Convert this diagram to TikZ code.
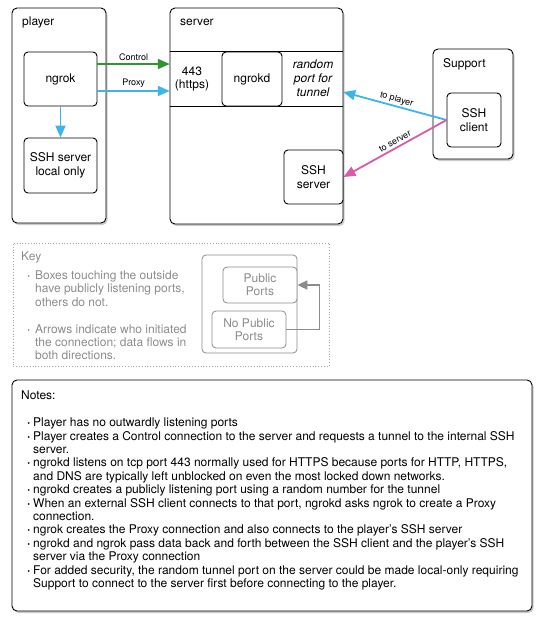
\documentclass[tikz,border=0pt]{standalone}
\usepackage{fontspec}
\setmainfont{TeX Gyre Heros}
\usetikzlibrary{arrows.meta,shadows}
\definecolor{ctlgreen}{HTML}{2E962E}
\definecolor{tunblue}{HTML}{3DB4EC}
\definecolor{sshpink}{HTML}{D95AA6}
\definecolor{keygray}{HTML}{8C8C8C}
\def\bulw{12pt}
\newcommand\bul{\makebox[\bulw][l]{\hspace{6pt}\textbf{\textperiodcentered}}}
\newcommand\hang{\hspace*{\bulw}}

\begin{document}
\begin{tikzpicture}[x=1pt, y=-1pt,
	font=\fontsize{12}{13.4}\selectfont,
	plainbox/.style={draw, line width=0.9pt, rounded corners=4pt, fill=white,
		align=center, inner sep=2pt},
	box/.style={plainbox, rounded corners=5pt,
		drop shadow={shadow xshift=1.5pt, shadow yshift=-2pt, opacity=0.4}},
	keybox/.style={plainbox, line width=0.8pt, draw=keygray, text=keygray},
	conn/.style={line width=1.8pt, -{Triangle[length=12pt, width=10pt]}},
	lbl/.style={font=\fontsize{9}{10}\selectfont, inner sep=1.5pt}]
\useasboundingbox (0,0) rectangle (544,625);

% containers
\node[box, minimum width=94, minimum height=215] (player) at (59,115.5) {};
\node[box, minimum width=173, minimum height=216] (server) at (256.5,116) {};
\node[box, minimum width=80, minimum height=110] (support) at (473,104) {};
\node[anchor=west, inner sep=0] (playerlbl) at (22,22) {player};
\node[anchor=west, inner sep=0] (serverlbl) at (180,22) {server};
\node[anchor=west, inner sep=0] (supportlbl) at (443,64) {Support};

% player side
\node[plainbox, minimum width=73, minimum height=54] (ngrok) at (60.5,79) {ngrok};
\node[plainbox, minimum width=73, minimum height=55] (local) at (60.5,165.5)
	{SSH server\\local only};

% server side
\node[minimum width=173, minimum height=54, inner sep=0] (band) at (256.5,79) {};
\draw[line width=0.9pt] (band.north west) -- (band.north east)
	(band.south west) -- (band.south east);
\node[align=center] (https) at (192,79) {443\\(https)};
\node[plainbox, minimum width=60, minimum height=54] (ngrokd) at (252,79) {ngrokd};
\node[align=center, font=\fontsize{12}{14}\selectfont\itshape] (rport) at (313,78)
	{random\\port for\\tunnel};
\node[plainbox, minimum width=59, minimum height=54] (sshsrv) at (313.5,177) {SSH\\server};

% support side
\node[plainbox, minimum width=54, minimum height=54] (client) at (474,120) {SSH\\client};

% connections
\draw[conn, ctlgreen] ([yshift=15pt]ngrok.east) -- ([yshift=15pt]ngrok.east -| band.west)
	node[lbl, midway, above=1pt, text=black] {Control};
\draw[conn, tunblue] ([yshift=-12pt]ngrok.east) -- ([yshift=-12pt]ngrok.east -| band.west)
	node[lbl, midway, above=1pt, text=black] {Proxy};
\draw[conn, tunblue] (ngrok.south) -- (local.north);
\draw[conn, tunblue] (client.west) -- ([yshift=-13pt]band.east)
	node[lbl, pos=0.5, above, sloped, text=black] {to player};
\draw[conn, sshpink] (client.west) -- (sshsrv.east)
	node[lbl, pos=0.47, above=1pt, sloped, text=black] {to server};

% key
\node[draw=keygray!80, dotted, line width=0.8pt, minimum width=316, minimum height=123,
	inner sep=0] (key) at (171,304.5) {};
\node[anchor=west, inner sep=0, text=keygray] (keylbl) at (21,257) {Key};
\def\bulw{14pt}
\node[anchor=north west, inner sep=0, align=left, text=keygray] (keytext) at (21,270.5) {%
	\bul Boxes touching the outside\\
	\hang have publicly listening ports,\\
	\hang others do not.\\[13.4pt]
	\bul Arrows indicate who initiated\\
	\hang the connection; data flows in\\
	\hang both directions.};
\def\bulw{12pt}
\node[keybox, minimum width=95, minimum height=98] (keyframe) at (249.5,304) {};
\node[keybox, minimum width=74, minimum height=36] (pub) at (260,285) {Public\\Ports};
\node[keybox, minimum width=74, minimum height=37] (nopub) at (249,329.5)
	{No Public\\Ports};
\draw[line width=1.6pt, keygray, -{Triangle[length=10pt, width=9pt]}]
	(nopub.east) -- ++(33,0) |- (pub.east);

% notes
\node[box, minimum width=520, minimum height=231] (notes) at (272,495.5) {};
\node[anchor=north west, inner sep=0, align=left] (notetext) at (21,391) {%
	Notes:\\[13.4pt]
	\bul Player has no outwardly listening ports\\
	\bul Player creates a Control connection to the server and requests a tunnel to the internal SSH\\
	\hang server.\\
	\bul ngrokd listens on tcp port 443 normally used for HTTPS because ports for HTTP, HTTPS,\\
	\hang and DNS are typically left unblocked on even the most locked down networks.\\
	\bul ngrokd creates a publicly listening port using a random number for the tunnel\\
	\bul When an external SSH client connects to that port, ngrokd asks ngrok to create a Proxy\\
	\hang connection.\\
	\bul ngrok creates the Proxy connection and also connects to the player's SSH server\\
	\bul ngrokd and ngrok pass data back and forth between the SSH client and the player's SSH\\
	\hang server via the Proxy connection\\
	\bul For added security, the random tunnel port on the server could be made local-only requiring\\
	\hang Support to connect to the server first before connecting to the player.};
\end{tikzpicture}
\end{document}
